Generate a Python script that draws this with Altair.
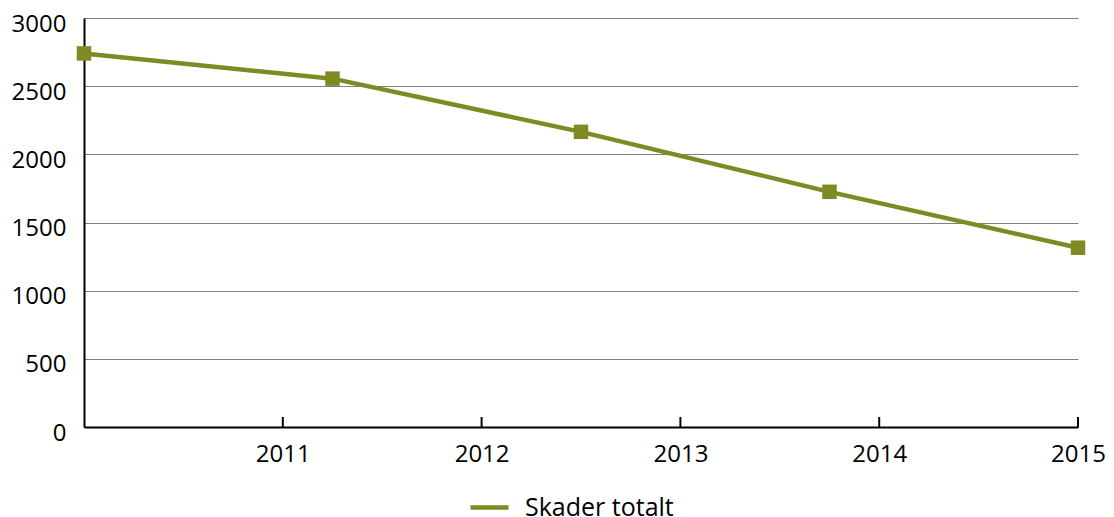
import altair as alt
import pandas as pd

# Data
x_positions = [2010, 2011.25, 2012.5, 2013.75, 2015]
values = [2740, 2555, 2165, 1725, 1315]
series_name = "Skader totalt"
x_tick_years = [2011, 2012, 2013, 2014, 2015]
y_tick_values = [0, 500, 1000, 1500, 2000, 2500, 3000]

COLOR = "#7F8A24"
FONT = "Open Sans"

df = pd.DataFrame({"x": x_positions, "value": values, "series": [series_name] * len(values)})
ticks_df = pd.DataFrame({"x": x_tick_years})

W, H = 994, 409

x_scale = alt.Scale(domain=[2010, 2015], nice=False, zero=False)
y_scale = alt.Scale(domain=[0, 3000], nice=False)

line = alt.Chart(df).mark_line(strokeWidth=4.5, color=COLOR).encode(
    x=alt.X("x:Q", scale=x_scale,
            axis=alt.Axis(values=x_tick_years, format="d", title=None, grid=False,
                          ticks=False, domainColor="black", domainWidth=2,
                          labelFontSize=24, labelFont=FONT, labelColor="black",
                          labelPadding=15, labelFlush=False)),
    y=alt.Y("value:Q", scale=y_scale,
            axis=alt.Axis(values=y_tick_values, format="d", title=None, grid=True,
                          gridColor="#808080", gridWidth=1, ticks=False,
                          domainColor="black", domainWidth=2,
                          labelFontSize=24, labelFont=FONT, labelColor="black",
                          labelPadding=18, labelOffset=6)),
    color=alt.Color("series:N", scale=alt.Scale(range=[COLOR]),
                    legend=alt.Legend(title=None, orient="none", legendX=384, legendY=468,
                                      symbolType="stroke", symbolStrokeWidth=4.5,
                                      symbolSize=1444, labelFontSize=25, labelFont=FONT,
                                      labelColor="black", labelOffset=14)),
)

points = alt.Chart(df).mark_square(size=210, opacity=1, color=COLOR).encode(
    x=alt.X("x:Q", scale=x_scale),
    y=alt.Y("value:Q", scale=y_scale),
)

tick_marks = alt.Chart(ticks_df).mark_rule(color="black", strokeWidth=2).encode(
    x=alt.X("x:Q", scale=x_scale),
    y=alt.value(H - 10),
    y2=alt.value(H),
)

chart = alt.layer(line, points, tick_marks).properties(
    width=W, height=H,
    autosize=alt.AutoSizeParams(type="none"),
    padding={"left": 76, "top": 10, "right": 28, "bottom": 90},
).configure_view(stroke=None)

chart.save("out.html", embed_options={"renderer": "svg", "actions": False})
